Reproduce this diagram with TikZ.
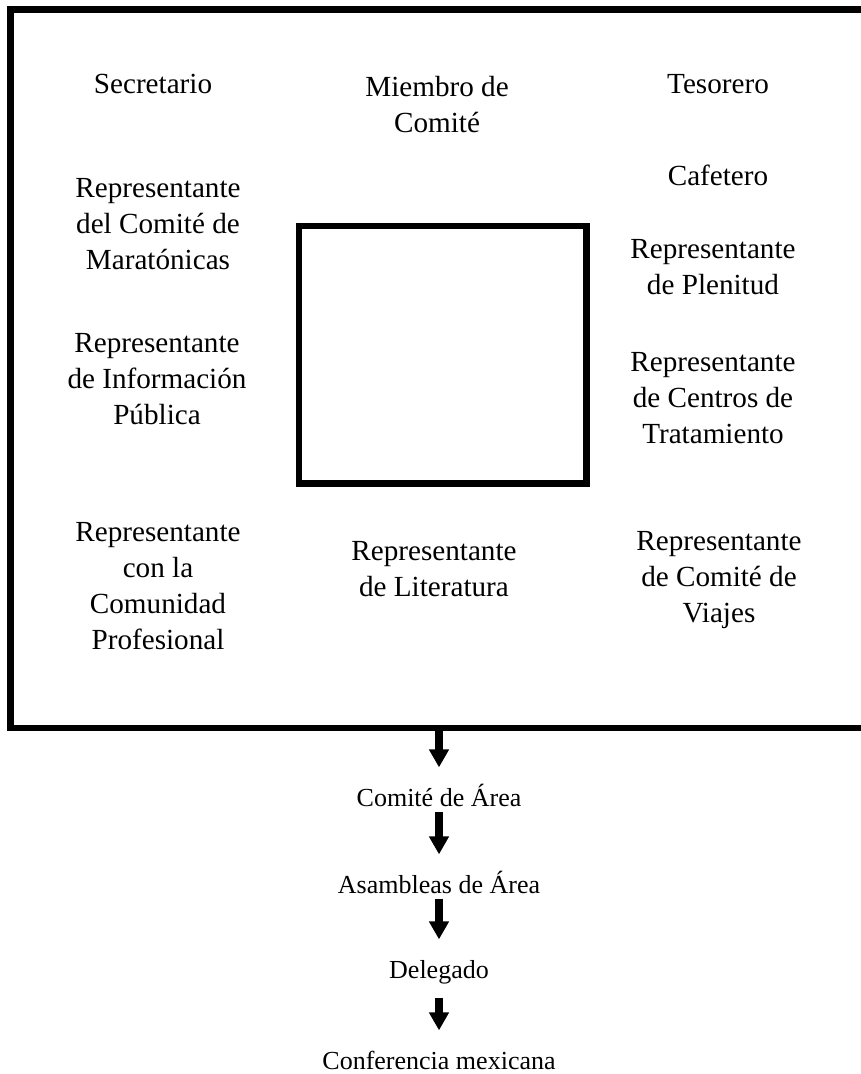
\documentclass[tikz,border=0pt]{standalone}
\usepackage{fontspec}
\setmainfont{Liberation Serif}
\usetikzlibrary{arrows.meta}

\begin{document}
\begin{tikzpicture}[x=0.02cm, y=-0.02cm,
    role/.style={align=center, inner sep=0pt, font=\fontsize{16.6}{20.5}\selectfont},
    level/.style={anchor=base, inner sep=0pt, text height=11pt, text depth=3pt, font=\fontsize{14.8}{18}\selectfont},
    flow/.style={line width=4.2pt, -{Triangle[width=10.8pt,length=10.2pt]}, shorten >=10.8pt}]
  \useasboundingbox (0,0) rectangle (860,1074);

  % committee frame and empty centre box
  \draw[line width=3.8pt] (10.7,9.3) rectangle (900,728);
  \draw[line width=3.8pt] (299,226) rectangle (586.5,483.5);

  \node[role] (sec) at (153,84) {Secretario};
  \node[role] (mie) at (437,105) {Miembro de\\Comité};
  \node[role] (tes) at (718,84) {Tesorero};
  \node[role] (caf) at (718,175) {Cafetero};
  \node[role] (mar) at (158,224) {Representante\\del Comité de\\Maratónicas};
  \node[role] (ple) at (713,267) {Representante\\de Plenitud};
  \node[role] (inf) at (157,379) {Representante\\de Información\\Pública};
  \node[role] (cen) at (713,398) {Representante\\de Centros de\\Tratamiento};
  \node[role] (com) at (158,586) {Representante\\con la\\Comunidad\\Profesional};
  \node[role] (lit) at (434,569) {Representante\\de Literatura};
  \node[role] (via) at (719,580) {Representante\\de Comité de\\Viajes};

  % chain below the committee
  \coordinate (out) at (439,731);
  \node[level] (area) at (439,806) {Comité de Área};
  \node[level] (asa) at (439,893) {Asambleas de Área};
  \node[level] (del) at (439,978) {Delegado};
  \node[level] (conf) at (439,1069) {Conferencia mexicana};

  \draw[flow] (out) -- (area.north);
  \draw[flow] (area.south) -- (asa.north);
  \draw[flow] (asa.south) -- (del.north);
  \draw[flow, shorten <=8pt] (del.south) -- (conf.north);
\end{tikzpicture}
\end{document}
